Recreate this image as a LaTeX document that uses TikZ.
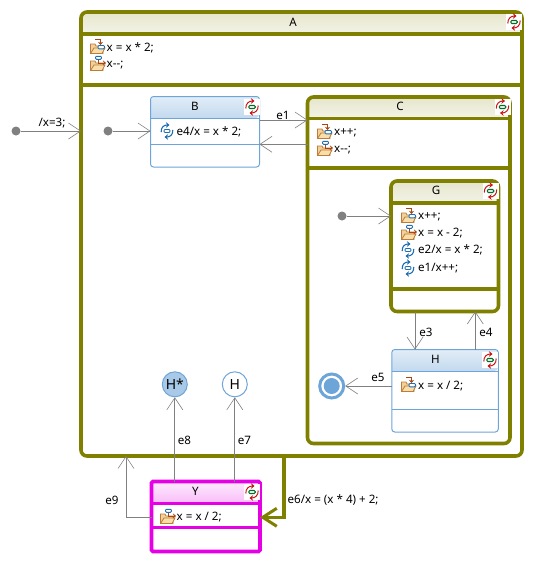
\documentclass[tikz,border=0pt]{standalone}
\usepackage{fontspec}
\setmainfont{Noto Sans}
\usetikzlibrary{arrows.meta, backgrounds}
\definecolor{oliveline}{RGB}{128,128,0}
\definecolor{blueline}{RGB}{110,165,216}
\definecolor{pinkline}{RGB}{230,0,230}
\definecolor{transgray}{RGB}{128,128,128}
\definecolor{foldertan}{RGB}{250,222,170}
\definecolor{folderedge}{RGB}{190,125,55}
\definecolor{actbrown}{RGB}{170,70,20}
\definecolor{actblue}{RGB}{30,110,180}
\definecolor{cyclered}{RGB}{205,20,20}
\definecolor{cyclegreen}{RGB}{0,110,40}
\tikzset{
	compound/.style={draw=oliveline,line width=3.6pt,rounded corners=6pt,anchor=north west,inner sep=0pt,outer sep=0pt},
	simple/.style={draw=blueline,line width=1pt,rounded corners=3pt,anchor=north west,inner sep=0pt,outer sep=0pt},
	selected/.style={draw=pinkline,line width=3.6pt,rounded corners=1.5pt,anchor=north west,inner sep=0pt,outer sep=0pt},
	oliverule/.style={draw=oliveline,line width=3.6pt},
	bluerule/.style={draw=blueline,line width=1pt},
	pinkrule/.style={draw=pinkline,line width=3.6pt},
	oliveshade/.style={top color=oliveline!20,bottom color=oliveline!9},
	blueshade/.style={top color=blueline!20,bottom color=blueline!42},
	pinkshade/.style={top color=pinkline!8,bottom color=pinkline!26},
	title/.style={font=\fontsize{11.6}{13}\selectfont},
	act/.style={anchor=west,inner sep=0pt,font=\fontsize{11.6}{13}\selectfont},
	lab/.style={inner sep=0pt,font=\fontsize{11.6}{13}\selectfont},
	init/.style={circle,fill=transgray,minimum size=9pt,inner sep=0pt},
	history/.style={circle,draw=blueline,line width=1pt,minimum size=25pt,inner sep=0pt,font=\fontsize{14}{14}\selectfont},
	trans/.style={draw=transgray,line width=0.9pt,-{Straight Barb[length=12pt,width=16pt,line width=0.6pt]}},
	folder/.pic={
		\draw[folderedge,fill=foldertan!85!brown,line width=.8pt] (0.5,14.5)--(0.5,5)--(5,5)--(6,7)--(13,7)--(13,14.5)--cycle;
		\draw[folderedge,fill=foldertan,line width=.8pt] (0.5,14.5)--(4,9)--(15,9)--(12,14.5)--cycle;
	},
	entryact/.pic={
		\pic {folder};
		\draw[actbrown,line width=1pt,-{Stealth[length=3pt,width=5pt]}] (5,0.5)--(10.5,0.5)--(10.5,6);
		\draw[actblue,fill=white,line width=.9pt,rounded corners=1pt] (8,6.5) rectangle (14.5,9.8);
	},
	exitact/.pic={
		\pic {folder};
		\draw[actbrown,line width=1pt,-{Stealth[length=3pt,width=5pt]}] (8,3)--(8,7)--(16,7);
		\draw[actblue,fill=white,line width=.9pt,rounded corners=1pt] (5.5,0.3) rectangle (11.5,3.3);
	},
	internalact/.pic={
		\draw[actblue,line width=1.1pt,-{Stealth[length=3.5pt,width=5.5pt]}] (0.2,9) .. controls (0,4) and (3,2) .. (8.5,2);
		\draw[actblue,line width=1.1pt,-{Stealth[length=3.5pt,width=5.5pt]}] (11.8,7) .. controls (12,12) and (9,14) .. (3.5,14);
		\draw[actblue,fill=white,line width=.9pt,rounded corners=1pt] (3,6.5) rectangle (9,9.5);
	},
	cycleicon/.pic={
		\fill[white] (-8,-8) rectangle (8,8);
		\draw[cyclered,line width=1pt,-{Stealth[length=3.5pt,width=5.5pt]}] (-6.2,1.5) .. controls (-6.4,-3.5) and (-3,-6) .. (2.5,-6);
		\draw[cyclered,line width=1pt,-{Stealth[length=3.5pt,width=5.5pt]}] (6.2,-1.5) .. controls (6.4,3.5) and (3,6) .. (-2.5,6);
		\draw[cyclegreen,line width=1.1pt,rounded corners=1pt] (-3.2,-1.5) rectangle (3.2,1.5);
	},
}
% header gradient behind the box: name, y of the rule, shade style
\newcommand{\statehead}[3]{%
	\begin{pgfonlayer}{background}
		\shade[#3] (#1.west |- 0,#2) [rounded corners=5pt] |- (#1.north east) -- (#1.east |- 0,#2) [sharp corners] -- cycle;
	\end{pgfonlayer}}
\begin{document}
\begin{tikzpicture}[x=1pt,y=-1pt]
	\useasboundingbox (0,0) rectangle (533,563);
	% state A
	\node[compound,minimum width=441pt,minimum height=444pt] (A) at (81,12) {};
	\statehead{A}{34}{oliveshade}
	\draw[oliverule] (A.west |- 0,34) -- (A.east |- 0,34);
	\draw[oliverule] (A.west |- 0,85) -- (A.east |- 0,85);
	\node[title] (Atitle) at (293,22) {A};
	\pic at (514,22) {cycleicon};
	\pic at (90,39) {entryact};
	\node[act] (Aentry) at (106.5,47.5) {x = x * 2;};
	\pic at (90,56) {exitact};
	\node[act] (Aexit) at (106.5,65) {x-{}-;};
	% state B
	\node[simple,minimum width=109pt,minimum height=70.5pt] (B) at (150.5,96.5) {};
	\statehead{B}{118.5}{blueshade}
	\draw[bluerule] (B.west |- 0,118.5) -- (B.east |- 0,118.5);
	\draw[bluerule] (B.west |- 0,144.5) -- (B.east |- 0,144.5);
	\node[title] (Btitle) at (195,106) {B};
	\pic at (252,107) {cycleicon};
	\pic at (161,123) {internalact};
	\node[act] (Bint) at (176.5,132) {e4/x = x * 2;};
	% state C
	\node[compound,minimum width=202.5pt,minimum height=346.5pt] (C) at (307.5,97) {};
	\statehead{C}{118.5}{oliveshade}
	\draw[oliverule] (C.west |- 0,118.5) -- (C.east |- 0,118.5);
	\draw[oliverule] (C.west |- 0,168) -- (C.east |- 0,168);
	\node[title] (Ctitle) at (400,106) {C};
	\pic at (502.5,107) {cycleicon};
	\pic at (317,124) {entryact};
	\node[act] (Centry) at (334,132.5) {x++;};
	\pic at (317,141) {exitact};
	\node[act] (Cexit) at (334,150) {x-{}-;};
	% state G
	\node[compound,minimum width=107.5pt,minimum height=130.5pt] (G) at (391,181) {};
	\statehead{G}{203}{oliveshade}
	\draw[oliverule] (G.west |- 0,203) -- (G.east |- 0,203);
	\draw[oliverule] (G.west |- 0,289) -- (G.east |- 0,289);
	\node[title] (Gtitle) at (436,190) {G};
	\pic at (490.5,191) {cycleicon};
	\pic at (401,208) {entryact};
	\node[act] (Gentry) at (418,216.5) {x++;};
	\pic at (401,225) {exitact};
	\node[act] (Gexit) at (418,233) {x = x - 2;};
	\pic at (402,242) {internalact};
	\node[act] (Gint1) at (418,250) {e2/x = x * 2;};
	\pic at (402,260) {internalact};
	\node[act] (Gint2) at (418,268.5) {e1/x++;};
	% state H
	\node[simple,minimum width=106.5pt,minimum height=82.5pt] (H) at (391.8,349.5) {};
	\statehead{H}{371.5}{blueshade}
	\draw[bluerule] (H.west |- 0,371.5) -- (H.east |- 0,371.5);
	\draw[bluerule] (H.west |- 0,409.5) -- (H.east |- 0,409.5);
	\node[title] (Htitle) at (435.5,359) {H};
	\pic at (490,360) {cycleicon};
	\pic at (401,377) {entryact};
	\node[act] (Hentry) at (418,386) {x = x / 2;};
	% state Y
	\node[selected,minimum width=108.5pt,minimum height=70pt] (Y) at (151.5,481.5) {};
	\statehead{Y}{503.5}{pinkshade}
	\draw[pinkrule] (Y.west |- 0,503.5) -- (Y.east |- 0,503.5);
	\draw[pinkrule] (Y.west |- 0,527.5) -- (Y.east |- 0,527.5);
	\node[title] (Ytitle) at (195.5,491) {Y};
	\pic at (252,492) {cycleicon};
	\pic at (160,509) {exitact};
	\node[act] (Yexit) at (176.5,517.5) {x = x / 2;};
	% pseudo states
	\node[init] (init1) at (16,131) {};
	\node[init] (init2) at (108,131) {};
	\node[init] (init3) at (342,216) {};
	\node[history,fill=blueline!60] (Hdeep) at (174.8,384.3) {H*};
	\node[history] (Hshallow) at (234.8,384.3) {H};
	\node[circle,draw=blueline,line width=3pt,minimum size=24pt,inner sep=0pt] (final) at (331.7,386) {};
	\node[circle,fill=blueline,minimum size=16pt,inner sep=0pt] (finaldot) at (final) {};
	% transitions
	\draw[trans] (init1) -- (A.west |- init1);
	\draw[trans] (init2) -- (B.west |- init2);
	\draw[trans] (init3) -- (G.west |- init3);
	\draw[trans] (B.east |- 0,120) -- (C.west |- 0,120);
	\draw[trans] (C.west |- 0,144.3) -- (B.east |- 0,144.3);
	\draw[trans] (G.south -| 415,0) -- (H.north -| 415,0);
	\draw[trans] (H.north -| 475.3,0) -- (G.south -| 475.3,0);
	\draw[trans] (H.west |- final) -- (final.east);
	\draw[trans] (Y.north -| Hdeep) -- (Hdeep);
	\draw[trans] (Y.north -| Hshallow) -- (Hshallow);
	\draw[trans] (Y.west |- 0,517.3) -| (A.south -| 126,0);
	\draw[draw=oliveline,line width=3.6pt,-{Straight Barb[length=14pt,width=18pt,line width=3pt]}] (A.south -| 284,0) |- (Y.east |- 0,517.3);
	% labels
	\node[lab] (lab0) at (52,123) {/x=3;};
	\node[lab] (lab1) at (283,115.5) {e1};
	\node[lab] (lab3) at (426,332) {e3};
	\node[lab] (lab4) at (486,332) {e4};
	\node[lab] (lab5) at (378,377) {e5};
	\node[lab] (lab7) at (244.5,440) {e7};
	\node[lab] (lab8) at (184.5,440) {e8};
	\node[lab] (lab9) at (112,500.5) {e9};
	\node[act] (lab6) at (287.5,500.5) {e6/x = (x * 4) + 2;};
\end{tikzpicture}
\end{document}
